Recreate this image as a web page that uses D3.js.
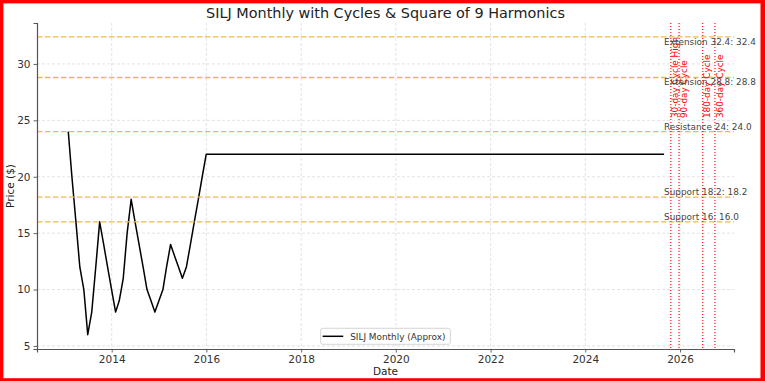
<!DOCTYPE html>
<html><head><meta charset="utf-8">
<script src="https://cdn.jsdelivr.net/npm/d3@7"></script>
<style>
body{margin:0;background:#fff}
svg{display:block;font-family:"DejaVu Sans",sans-serif}
</style>
</head><body>
<svg id="c" width="765" height="381"></svg>
<script>
// ---------------- data ----------------
const dates = [
  "2013-01-31","2013-02-28","2013-03-31","2013-04-30","2013-05-31","2013-06-30",
  "2013-07-31","2013-08-31","2013-09-30","2013-10-31","2013-11-30","2013-12-31",
  "2014-01-31","2014-02-28","2014-03-31","2014-04-30","2014-05-31","2014-06-30",
  "2014-07-31","2014-08-31","2014-09-30","2014-10-31","2014-11-30","2014-12-31",
  "2015-01-31","2015-02-28","2015-03-31","2015-04-30","2015-05-31","2015-06-30",
  "2015-07-31","2015-08-31","2015-09-30","2015-10-31","2015-11-30","2015-12-31",
  "2025-08-31"
];
const prices = [
  24,20,16,12,10,6, 8,12,16,14,12,10,
  8,9,11,15,18,16, 14,12,10,9,8,9,
  10,12,14,13,12,11, 12,14,16,18,20,22,
  22
];
const levelNames  = ["Extension 32.4","Extension 28.8","Resistance 24","Support 18.2","Support 16"];
const levelValues = [32.4, 28.8, 24.0, 18.2, 16.0];
const cycleNames  = ["30-day Cycle High","90-day Cycle","180-day Cycle","360-day Cycle"];
const cycleDates  = ["2025-10-22","2025-12-24","2026-06-25","2026-09-27"];
const yTicks      = [5,10,15,20,25,30];
const xTickYears  = [2014,2016,2018,2020,2022,2024,2026];
const seriesName  = "SILJ Monthly (Approx)";
const titleText   = "SILJ Monthly with Cycles & Square of 9 Harmonics";
const xLabel = "Date", yLabel = "Price ($)";

// ---------------- drawing ----------------
const svg = d3.select("#c");
const W = 765, H = 381;
const L = 37, R = 734, T = 23, B = 349;
const parse = d3.utcParse("%Y-%m-%d");
function fy(v){const y=Math.floor(v);const s=Date.UTC(y,0,1),e=Date.UTC(y+1,0,1);return new Date(s+(v-y)*(e-s));}

const x = d3.scaleUtc().domain([fy(2012.423), fy(2027.14)]).range([L, R]);
const y = d3.scaleLinear().domain([4.73, 33.63]).range([B, T]);

svg.append("rect").attr("width",W).attr("height",H).attr("fill","#fff");

// grid
const grid = svg.append("g");
xTickYears.forEach(yr=>{
  grid.append("line").attr("x1",x(fy(yr))).attr("x2",x(fy(yr))).attr("y1",T).attr("y2",B)
    .attr("stroke","#dcdcdc").attr("stroke-width",0.8).attr("stroke-dasharray","3,2");
});
yTicks.forEach(v=>{
  grid.append("line").attr("x1",L).attr("x2",R).attr("y1",y(v)).attr("y2",y(v))
    .attr("stroke","#dcdcdc").attr("stroke-width",0.8).attr("stroke-dasharray","3,2");
});

// price line
const pts = dates.map((d,i)=>({d:parse(d), v:prices[i]}));
svg.append("path").datum(pts)
  .attr("d", d3.line().x(p=>x(p.d)).y(p=>y(p.v)))
  .attr("fill","none").attr("stroke","#000").attr("stroke-width",1.5).attr("stroke-linejoin","round");

// horizontal levels
levelValues.forEach(v=>{
  svg.append("line").attr("x1",L).attr("x2",R).attr("y1",y(v)).attr("y2",y(v))
    .attr("stroke","#F5B843").attr("stroke-width",1.3).attr("stroke-dasharray","5.5,2.5");
});

// cycle lines
const lastDate = pts[pts.length-1].d;
const cycleTextY = y(d3.max(prices)*1.05);
cycleDates.forEach(c=>{
  const cx = x(parse(c));
  svg.append("line").attr("x1",cx).attr("x2",cx).attr("y1",T).attr("y2",B)
    .attr("stroke","red").attr("stroke-width",1.1).attr("stroke-dasharray","1.1,1.9");
});

// axes
const gx = svg.append("g").attr("transform",`translate(0,${B})`)
  .call(d3.axisBottom(x).tickValues(xTickYears.map(fy)).tickFormat(d3.utcFormat("%Y")).tickSizeOuter(0).tickSize(3.5).tickPadding(3));
const gy = svg.append("g").attr("transform",`translate(${L},0)`)
  .call(d3.axisLeft(y).tickValues(yTicks).tickSizeOuter(0).tickSize(3.5).tickPadding(3));
[gx,gy].forEach(g=>{
  g.select(".domain").attr("stroke","#555").attr("stroke-width",1.2);
  g.selectAll(".tick line").attr("stroke","#555").attr("stroke-width",0.9);
  g.selectAll(".tick text").attr("fill","#333").style("font-family","DejaVu Sans").style("font-size","10.5px");
});

// level labels
levelNames.forEach((n,i)=>{
  const v = levelValues[i];
  const isExt = n.startsWith("Extension");
  svg.append("text").attr("x", x(lastDate)).attr("y", isExt ? y(v)+7.8 : y(v)-1.6)
    .attr("fill","#444").style("font-size","8.9px")
    .text(`${n}: ${v.toFixed(1)}`);
});

// cycle labels
cycleDates.forEach((c,i)=>{
  const cx = x(parse(c)) + 7.6;
  svg.append("text").attr("transform",`translate(${cx},${cycleTextY}) rotate(-90)`)
    .attr("fill","red").style("font-size","8.9px").text(cycleNames[i]);
});

// title & axis labels
svg.append("text").attr("x",(L+R)/2).attr("y",18).attr("text-anchor","middle")
  .attr("fill","#222").style("font-size","14.4px").text(titleText);
svg.append("text").attr("x",(L+R)/2).attr("y",375).attr("text-anchor","middle")
  .attr("fill","#222").style("font-size","10.5px").text(xLabel);
svg.append("text").attr("transform",`translate(14,${(T+B)/2}) rotate(-90)`).attr("text-anchor","middle")
  .attr("fill","#222").style("font-size","10.5px").text(yLabel);

// legend
const lg = svg.append("g");
const lt = lg.append("text").style("font-size","8.9px").attr("fill","#333").text(seriesName);
const tw = lt.node().getComputedTextLength();
const boxW = 2 + 20.6 + 7 + tw + 5;
const bx = (L+R)/2 - boxW/2, by = 328.3, bh = 16;
lg.insert("rect","text").attr("x",bx).attr("y",by).attr("width",boxW).attr("height",bh)
  .attr("rx",2).attr("fill","#fff").attr("fill-opacity",0.85).attr("stroke","#ccc").attr("stroke-width",0.8);
lg.append("line").attr("x1",bx+2).attr("x2",bx+22.6).attr("y1",by+bh/2).attr("y2",by+bh/2)
  .attr("stroke","#000").attr("stroke-width",1.5);
lt.attr("x",bx+29.6).attr("y",by+bh/2+3.2);

// red frame
svg.append("rect").attr("x",0).attr("y",0).attr("width",W).attr("height",3.4).attr("fill","red");
svg.append("rect").attr("x",0).attr("y",0).attr("width",3.4).attr("height",H).attr("fill","red");
svg.append("rect").attr("x",760.5).attr("y",0).attr("width",W-760.5).attr("height",H).attr("fill","red");
svg.append("rect").attr("x",0).attr("y",378.2).attr("width",W).attr("height",H-378.2).attr("fill","red");
</script>
</body></html>
